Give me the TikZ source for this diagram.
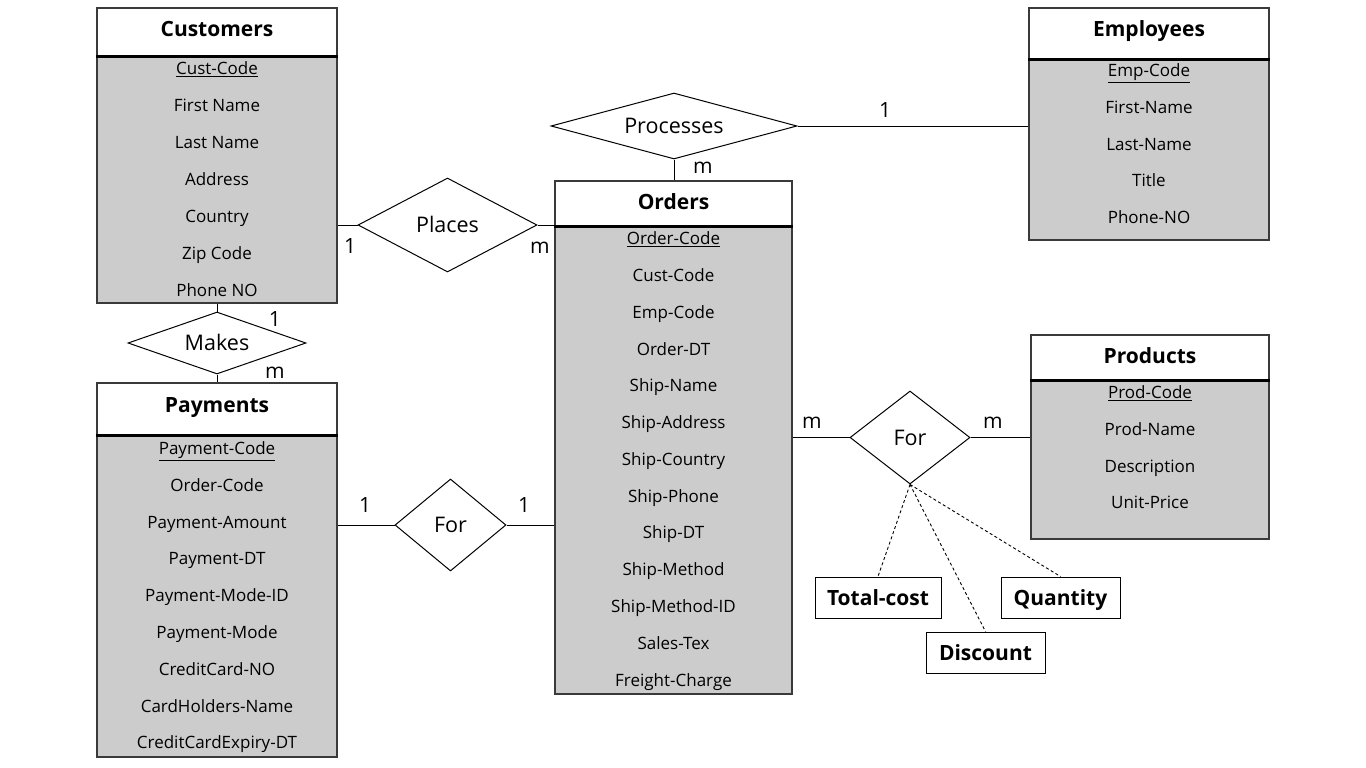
\documentclass[tikz,border=0pt]{standalone}
\usepackage{fontspec}
\setmainfont{Open Sans}
\usetikzlibrary{shapes.geometric}
\definecolor{bodygray}{HTML}{CCCCCC}
\definecolor{framegray}{HTML}{3A3A3A}
\tikzset{
  ebody/.style={draw=framegray, fill=bodygray, line width=1.3pt, inner sep=0pt},
  ehead/.style={draw=framegray, fill=white, line width=1.3pt, inner sep=0pt},
  hline/.style={line width=2.6pt, black},
  etitle/.style={font=\fontsize{21}{25}\selectfont\bfseries, inner sep=0pt, text height=15.5pt, text depth=4.6pt},
  eattr/.style={font=\fontsize{17}{20}\selectfont, inner sep=0pt, text height=12.6pt, text depth=3.7pt},
  rel/.style={diamond, draw=black, line width=1pt, inner sep=0pt},
  reltext/.style={font=\fontsize{21.5}{25}\selectfont, inner sep=0pt, text height=15.9pt, text depth=4.7pt},
  card/.style={font=\fontsize{21}{25}\selectfont, inner sep=0pt, text height=15.5pt, text depth=4.6pt},
  conn/.style={line width=1pt, black},
  dconn/.style={line width=0.9pt, black, dash pattern=on 3pt off 2.5pt},
  abox/.style={draw=black, line width=1pt, fill=white, inner sep=0pt, font=\fontsize{21}{25}\selectfont\bfseries, text height=21.5pt, text depth=4.6pt}
}
\begin{document}
\begin{tikzpicture}[x=1pt,y=-1pt]
\useasboundingbox[fill=white] (0,0) rectangle (1366,768);

% ---------- Customers ----------
\node[ebody, minimum width=240, minimum height=295] (cust) at (217,155.5) {};
\node[ehead, minimum width=240, minimum height=48] (custH) at (217,32) {};
\draw[hline] (custH.south west) -- (custH.south east);
\node[etitle] (custT) at (217,31) {Customers};
\node[eattr] (cust1) at (217,70) {\underline{Cust-Code}};
\node[eattr] (cust2) at (217,107) {First Name};
\node[eattr] (cust3) at (217,144) {Last Name};
\node[eattr] (cust4) at (217,181) {Address};
\node[eattr] (cust5) at (217,218) {Country};
\node[eattr] (cust6) at (217,255) {Zip Code};
\node[eattr] (cust7) at (217,292) {Phone NO};

% ---------- Employees ----------
\node[ebody, minimum width=240, minimum height=232] (emp) at (1149,124) {};
\node[ehead, minimum width=240, minimum height=51] (empH) at (1149,33.5) {};
\draw[hline] (empH.south west) -- (empH.south east);
\node[etitle] (empT) at (1149,31) {Employees};
\node[eattr] (emp1) at (1149,72) {\underline{Emp-Code}};
\node[eattr] (emp2) at (1149,109) {First-Name};
\node[eattr] (emp3) at (1149,146) {Last-Name};
\node[eattr] (emp4) at (1149,182) {Title};
\node[eattr] (emp5) at (1149,219) {Phone-NO};

% ---------- Orders ----------
\node[ebody, minimum width=237, minimum height=513] (ord) at (673.5,437.5) {};
\node[ehead, minimum width=237, minimum height=45] (ordH) at (673.5,203.5) {};
\draw[hline] (ordH.south west) -- (ordH.south east);
\node[etitle] (ordT) at (673.5,204) {Orders};
\node[eattr] (ord1) at (673.5,240) {\underline{Order-Code}};
\node[eattr] (ord2) at (673.5,277) {Cust-Code};
\node[eattr] (ord3) at (673.5,314) {Emp-Code};
\node[eattr] (ord4) at (673.5,351) {Order-DT};
\node[eattr] (ord5) at (673.5,387) {Ship-Name};
\node[eattr] (ord6) at (673.5,424) {Ship-Address};
\node[eattr] (ord7) at (673.5,461) {Ship-Country};
\node[eattr] (ord8) at (673.5,498) {Ship-Phone};
\node[eattr] (ord9) at (673.5,534) {Ship-DT};
\node[eattr] (ord10) at (673.5,571) {Ship-Method};
\node[eattr] (ord11) at (673.5,608) {Ship-Method-ID};
\node[eattr] (ord12) at (673.5,645) {Sales-Tex};
\node[eattr] (ord13) at (673.5,682) {Freight-Charge};

% ---------- Products ----------
\node[ebody, minimum width=238, minimum height=204] (prod) at (1150,437) {};
\node[ehead, minimum width=238, minimum height=45] (prodH) at (1150,357.5) {};
\draw[hline] (prodH.south west) -- (prodH.south east);
\node[etitle] (prodT) at (1150,358) {Products};
\node[eattr] (prod1) at (1150,394) {\underline{Prod-Code}};
\node[eattr] (prod2) at (1150,431) {Prod-Name};
\node[eattr] (prod3) at (1150,468) {Description};
\node[eattr] (prod4) at (1150,504) {Unit-Price};

% ---------- Payments ----------
\node[ebody, minimum width=240, minimum height=374] (pay) at (217,570) {};
\node[ehead, minimum width=240, minimum height=52] (payH) at (217,409) {};
\draw[hline] (payH.south west) -- (payH.south east);
\node[etitle] (payT) at (217,407) {Payments};
\node[eattr] (pay1) at (217,450) {\underline{Payment-Code}};
\node[eattr] (pay2) at (217,487) {Order-Code};
\node[eattr] (pay3) at (217,524) {Payment-Amount};
\node[eattr] (pay4) at (217,560) {Payment-DT};
\node[eattr] (pay5) at (217,597) {Payment-Mode-ID};
\node[eattr] (pay6) at (217,634) {Payment-Mode};
\node[eattr] (pay7) at (217,671) {CreditCard-NO};
\node[eattr] (pay8) at (217,708) {CardHolders-Name};
\node[eattr] (pay9) at (217,744) {CreditCardExpiry-DT};

% ---------- Relationships ----------
\node[rel, minimum width=246, minimum height=66] (proc) at (674,126) {};
\node[reltext] (procT) at (674,128) {Processes};
\node[rel, minimum width=179, minimum height=94] (plc) at (447.5,225) {};
\node[reltext] (plcT) at (447.5,227) {Places};
\node[rel, minimum width=178, minimum height=62] (mk) at (217,343) {};
\node[reltext] (mkT) at (217,345) {Makes};
\node[rel, minimum width=111, minimum height=92] (forp) at (450.5,525) {};
\node[reltext] (forpT) at (450.5,527) {For};
\node[rel, minimum width=120, minimum height=93] (foro) at (910,437.5) {};
\node[reltext] (foroT) at (910,439.5) {For};

% ---------- Connectors ----------
\draw[conn] (proc.east) -- (proc.east -| emp.west);
\draw[conn] (proc.south) -- (proc.south |- ord.north);
\draw[conn] (plc.west) -- (plc.west -| cust.east);
\draw[conn] (plc.east) -- (plc.east -| ord.west);
\draw[conn] (mk.north) -- (mk.north |- cust.south);
\draw[conn] (mk.south) -- (mk.south |- pay.north);
\draw[conn] (forp.west) -- (forp.west -| pay.east);
\draw[conn] (forp.east) -- (forp.east -| ord.west);
\draw[conn] (foro.west) -- (foro.west -| ord.east);
\draw[conn] (foro.east) -- (foro.east -| prod.west);

% ---------- Cardinalities ----------
\node[card] (c1) at (885,112) {1};
\node[card] (c2) at (703,168) {m};
\node[card] (c3) at (350,248) {1};
\node[card] (c4) at (540,248) {m};
\node[card] (c5) at (275,321) {1};
\node[card] (c6) at (275,373) {m};
\node[card] (c7) at (365,507) {1};
\node[card] (c8) at (524,507) {1};
\node[card] (c9) at (812,423) {m};
\node[card] (c10) at (993,423) {m};

% ---------- Attributes of For ----------
\node[abox, minimum width=126, minimum height=41] (tc) at (878,597.5) {Total-cost};
\node[abox, minimum width=119, minimum height=41] (qty) at (1060.5,597.5) {Quantity};
\node[abox, minimum width=119, minimum height=41] (dis) at (985.5,652.5) {Discount};
\draw[dconn] (foro.south) -- (tc.north);
\draw[dconn] (foro.south) -- (dis.north);
\draw[dconn] (foro.south) -- (qty.north);
\end{tikzpicture}
\end{document}
